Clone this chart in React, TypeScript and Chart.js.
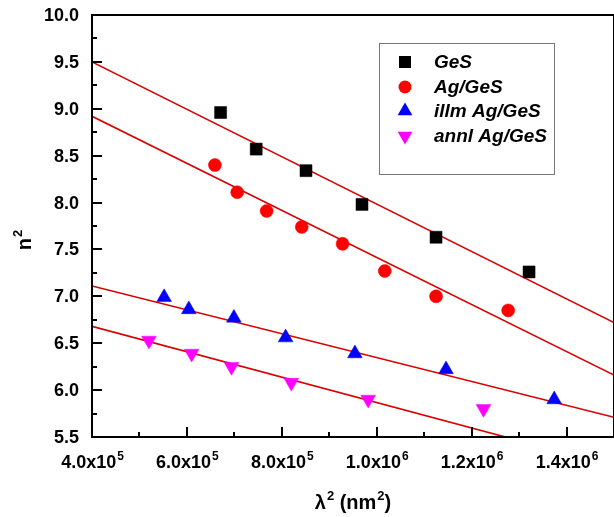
import React, { useEffect, useRef } from "react";
import { Chart, registerables } from "chart.js";

Chart.register(...registerables);

// ---- data ----
const GES_X = [6.71e5, 7.46e5, 8.51e5, 9.69e5, 1.125e6, 1.321e6];
const GES_Y = [8.96, 8.57, 8.34, 7.98, 7.63, 7.26];

const AG_X = [6.59e5, 7.06e5, 7.68e5, 8.42e5, 9.28e5, 1.017e6, 1.125e6, 1.277e6];
const AG_Y = [8.40, 8.11, 7.91, 7.74, 7.56, 7.27, 7.00, 6.85];

const ILLM_X = [5.52e5, 6.04e5, 6.99e5, 8.08e5, 9.54e5, 1.146e6, 1.374e6];
const ILLM_Y = [6.99, 6.86, 6.77, 6.56, 6.39, 6.22, 5.90];

const ANNL_X = [5.2e5, 6.1e5, 6.94e5, 8.2e5, 9.82e5, 1.225e6];
const ANNL_Y = [6.53, 6.39, 6.25, 6.08, 5.90, 5.80];

// linear fit lines: values at FIT_X ends
const FIT_X = [4.0e5, 1.5e6];
const GES_FIT = [9.5, 6.72];
const AG_FIT = [8.92, 6.16];
const ILLM_FIT = [7.11, 5.71];
const ANNL_FIT = [6.68, 5.19];

const LEGEND_LABELS = ["GeS", "Ag/GeS", "illm Ag/GeS", "annl Ag/GeS"];

const Y_TICKS = [5.5, 6.0, 6.5, 7.0, 7.5, 8.0, 8.5, 9.0, 9.5, 10.0];
const Y_TICK_LABELS = ["5.5", "6.0", "6.5", "7.0", "7.5", "8.0", "8.5", "9.0", "9.5", "10.0"];
const X_TICKS = [4.0e5, 6.0e5, 8.0e5, 1.0e6, 1.2e6, 1.4e6];
const X_TICK_MANT = ["4.0", "6.0", "8.0", "1.0", "1.2", "1.4"];
const X_TICK_EXP = ["5", "5", "5", "6", "6", "6"];

const X_MIN = 4.0e5;
const X_MAX = 1.5e6;
const Y_MIN = 5.5;
const Y_MAX = 10.0;

// ---- styles ----
const SERIES = [
  { label: LEGEND_LABELS[0], xs: GES_X, ys: GES_Y, fit: GES_FIT, color: "#000000", style: "rect", rot: 0, r: 8.5 },
  { label: LEGEND_LABELS[1], xs: AG_X, ys: AG_Y, fit: AG_FIT, color: "#ff0000", style: "circle", rot: 0, r: 6.5 },
  { label: LEGEND_LABELS[2], xs: ILLM_X, ys: ILLM_Y, fit: ILLM_FIT, color: "#0000ff", style: "triangle", rot: 0, r: 8.5 },
  { label: LEGEND_LABELS[3], xs: ANNL_X, ys: ANNL_Y, fit: ANNL_FIT, color: "#ff00ff", style: "triangle", rot: 180, r: 8.5 },
];

const FONT = '"Liberation Sans", Arial, sans-serif';
const FIT_COLOR = "#d80000";

function drawMarker(ctx: CanvasRenderingContext2D, style: string, rot: number, r: number, x: number, y: number, color: string) {
  ctx.save();
  ctx.fillStyle = color;
  ctx.beginPath();
  if (style === "rect") {
    const s = Math.SQRT1_2 * r;
    ctx.rect(x - s, y - s, 2 * s, 2 * s);
  } else if (style === "circle") {
    ctx.arc(x, y, r, 0, Math.PI * 2);
  } else {
    const base = (rot * Math.PI) / 180;
    for (let k = 0; k < 3; k++) {
      const a = base + (k * 2 * Math.PI) / 3;
      const px = x + Math.sin(a) * r;
      const py = y - Math.cos(a) * r;
      if (k === 0) ctx.moveTo(px, py);
      else ctx.lineTo(px, py);
    }
    ctx.closePath();
  }
  ctx.fill();
  ctx.restore();
}

const decorPlugin = {
  id: "decor",
  afterDraw(chart: any) {
    const { ctx, chartArea: a } = chart;
    const xs = chart.scales.x;
    const ys = chart.scales.y;
    ctx.save();

    // frame
    ctx.strokeStyle = "#000";
    ctx.lineWidth = 2;
    ctx.strokeRect(a.left, a.top, a.right - a.left, a.bottom - a.top);

    // inward ticks
    ctx.beginPath();
    Y_TICKS.forEach((v, i) => {
      const py = Math.round(ys.getPixelForValue(v));
      ctx.moveTo(a.left, py);
      ctx.lineTo(a.left + 10, py);
      if (i < Y_TICKS.length - 1) {
        const pm = Math.round(ys.getPixelForValue((v + Y_TICKS[i + 1]) / 2));
        ctx.moveTo(a.left, pm);
        ctx.lineTo(a.left + 5, pm);
      }
    });
    X_TICKS.forEach((v, i) => {
      const px = Math.round(xs.getPixelForValue(v));
      ctx.moveTo(px, a.bottom);
      ctx.lineTo(px, a.bottom - 10);
      const next = i < X_TICKS.length - 1 ? X_TICKS[i + 1] : v + (v - X_TICKS[i - 1]);
      const mid = (v + next) / 2;
      if (mid < X_MAX) {
        const pm = Math.round(xs.getPixelForValue(mid));
        ctx.moveTo(pm, a.bottom);
        ctx.lineTo(pm, a.bottom - 5);
      }
    });
    ctx.stroke();

    ctx.fillStyle = "#000";
    // y tick labels
    ctx.font = `bold 18px ${FONT}`;
    ctx.textAlign = "right";
    ctx.textBaseline = "middle";
    Y_TICKS.forEach((v, i) => {
      ctx.fillText(Y_TICK_LABELS[i], a.left - 13, ys.getPixelForValue(v) + 1);
    });

    // x tick labels with superscript exponent
    ctx.textAlign = "left";
    ctx.textBaseline = "alphabetic";
    const mainFont = `bold 18px ${FONT}`;
    const supFont = `bold 12px ${FONT}`;
    X_TICKS.forEach((v, i) => {
      const txt = X_TICK_MANT[i] + "x10";
      ctx.font = mainFont;
      const w1 = ctx.measureText(txt).width;
      ctx.font = supFont;
      const w2 = ctx.measureText(X_TICK_EXP[i]).width;
      const px = xs.getPixelForValue(v);
      const x0 = px - (w1 + w2) / 2;
      const base = a.bottom + 31;
      ctx.font = mainFont;
      ctx.fillText(txt, x0, base);
      ctx.font = supFont;
      ctx.fillText(X_TICK_EXP[i], x0 + w1 + 1, base - 8);
    });

    // x title: λ² (nm²)
    {
      const parts = [
        { t: "\u03bb", sup: false },
        { t: "2", sup: true },
        { t: " (nm", sup: false },
        { t: "2", sup: true },
        { t: ")", sup: false },
      ];
      const mf = `bold 20px ${FONT}`;
      const sf = `bold 13px ${FONT}`;
      let total = 0;
      const widths = parts.map((p) => {
        ctx.font = p.sup ? sf : mf;
        const w = ctx.measureText(p.t).width + (p.sup ? 1 : 0);
        total += w;
        return w;
      });
      let x = (a.left + a.right) / 2 - total / 2;
      const base = 509;
      parts.forEach((p, i) => {
        ctx.font = p.sup ? sf : mf;
        ctx.fillText(p.t, x + (p.sup ? 1 : 0), p.sup ? base - 9 : base);
        x += widths[i];
      });
    }

    // y title: n²
    {
      ctx.save();
      ctx.translate(31, 240);
      ctx.rotate(-Math.PI / 2);
      const mf = `bold 20px ${FONT}`;
      const sf = `bold 13px ${FONT}`;
      ctx.font = mf;
      const w1 = ctx.measureText("n").width;
      ctx.font = sf;
      const w2 = ctx.measureText("2").width;
      const x0 = -(w1 + w2 + 1) / 2;
      ctx.font = mf;
      ctx.fillText("n", x0, 0);
      ctx.font = sf;
      ctx.fillText("2", x0 + w1 + 1, -9);
      ctx.restore();
    }

    // legend
    {
      const bx = 379.5, by = 43.5, bw = 175, bh = 131;
      ctx.fillStyle = "#fff";
      ctx.fillRect(bx, by, bw, bh);
      ctx.strokeStyle = "#777";
      ctx.lineWidth = 1;
      ctx.strokeRect(bx, by, bw, bh);
      const rows = [62, 87, 111, 136];
      ctx.font = `italic bold 19px ${FONT}`;
      ctx.textAlign = "left";
      ctx.textBaseline = "middle";
      SERIES.forEach((s, i) => {
        drawMarker(ctx, s.style, s.rot, s.r, 405, rows[i], s.color);
        ctx.fillStyle = "#000";
        ctx.fillText(s.label, 434, rows[i] + 1);
      });
    }

    ctx.restore();
  },
};

export default function App() {
  const ref = useRef<HTMLCanvasElement | null>(null);

  useEffect(() => {
    if (!ref.current) return;
    const pointSets = SERIES.map((s) => ({
      type: "scatter" as const,
      label: s.label,
      data: s.xs.map((x, i) => ({ x, y: s.ys[i] })),
      pointStyle: s.style,
      pointRotation: s.rot,
      pointRadius: s.r,
      pointHoverRadius: s.r,
      backgroundColor: s.color,
      borderColor: s.color,
      borderWidth: 0.5,
      showLine: false,
      order: 0,
    }));
    const fitSets = SERIES.map((s) => ({
      type: "line" as const,
      label: s.label + " fit",
      data: FIT_X.map((x, i) => ({ x, y: s.fit[i] })),
      borderColor: FIT_COLOR,
      borderWidth: 1.6,
      pointRadius: 0,
      fill: false,
      showLine: true,
      tension: 0,
      order: 1,
    }));

    const chart = new Chart(ref.current, {
      type: "scatter",
      data: { datasets: [...pointSets, ...fitSets] as any },
      options: {
        responsive: false,
        animation: false,
        devicePixelRatio: 1,
        layout: { padding: { top: 15, left: 0, right: 0, bottom: 0 }, autoPadding: false },
        plugins: { legend: { display: false }, tooltip: { enabled: false } },
        scales: {
          x: {
            type: "linear",
            min: X_MIN,
            max: X_MAX,
            grid: { display: false },
            border: { display: false },
            ticks: { display: false },
            afterFit: (s: any) => {
              s.height = 80;
            },
          },
          y: {
            type: "linear",
            min: Y_MIN,
            max: Y_MAX,
            grid: { display: false },
            border: { display: false },
            ticks: { display: false },
            afterFit: (s: any) => {
              s.width = 92;
            },
          },
        },
      } as any,
      plugins: [decorPlugin],
    });
    return () => chart.destroy();
  }, []);

  return (
    <div style={{ position: "absolute", left: 0, top: 0, width: 614, height: 517, background: "#fff" }}>
      <canvas ref={ref} width={614} height={517} style={{ display: "block" }} />
    </div>
  );
}
